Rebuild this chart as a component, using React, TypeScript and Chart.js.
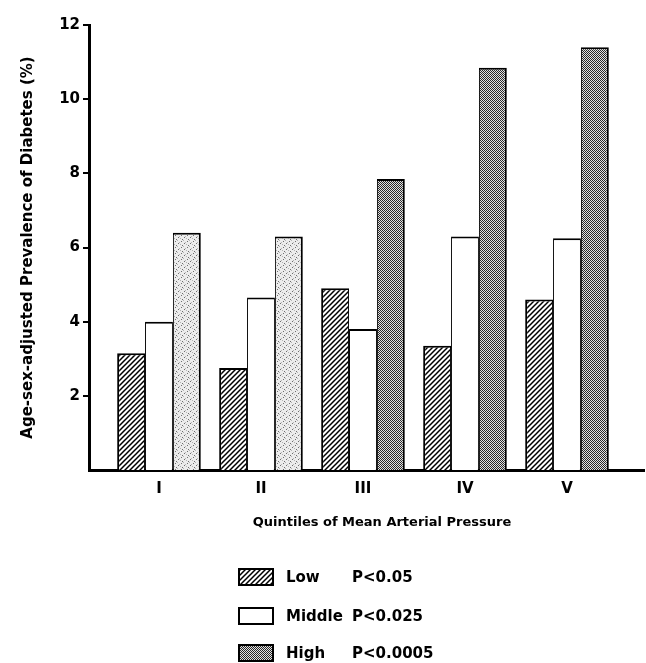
import React, { useEffect, useRef } from 'react';
import { Chart, registerables } from 'chart.js';

Chart.register(...registerables);

const categories = ['I', 'II', 'III', 'IV', 'V'];
const categoryPositions = [1, 2, 3, 4, 5];
const lowValues = [3.15, 2.75, 4.9, 3.35, 4.6];
const middleValues = [4.0, 4.65, 3.8, 6.3, 6.25];
const highValues = [6.4, 6.3, 7.85, 10.85, 11.4];
const highShade = ['light', 'light', 'dark', 'dark', 'dark'];
const seriesNames = ['Low', 'Middle', 'High'];
const pValues = ['P<0.05', 'P<0.025', 'P<0.0005'];
const yTicks = [2, 4, 6, 8, 10, 12];
const xTitle = 'Quintiles of Mean Arterial Pressure';
const yTitle = 'Age-sex-adjusted Prevalence of Diabetes (%)';

const FONT = '"DejaVu Sans", "Liberation Sans", sans-serif';

function makeHatch(ctx: CanvasRenderingContext2D) {
  const c = document.createElement('canvas');
  c.width = 5;
  c.height = 5;
  const g = c.getContext('2d')!;
  g.fillStyle = '#fff';
  g.fillRect(0, 0, 5, 5);
  g.strokeStyle = '#000';
  g.lineWidth = 1.5;
  g.beginPath();
  g.moveTo(-1, 6);
  g.lineTo(6, -1);
  g.moveTo(-1, 1);
  g.lineTo(1, -1);
  g.moveTo(4, 6);
  g.lineTo(6, 4);
  g.stroke();
  return ctx.createPattern(c, 'repeat')!;
}

function makeStipple(ctx: CanvasRenderingContext2D, dark: boolean) {
  const size = 6;
  const c = document.createElement('canvas');
  c.width = size;
  c.height = size;
  const g = c.getContext('2d')!;
  const img = g.createImageData(size, size);
  for (let y = 0; y < size; y++) {
    for (let x = 0; x < size; x++) {
      let v: number;
      if (dark) {
        v = (x + y) % 2 === 0 ? 40 : 225;
        if (x === 2 && y === 3) v = 235;
      } else {
        v = 236;
        if ((x === 1 && y === 1) || (x === 4 && y === 3) || (x === 2 && y === 5)) v = 110;
        if ((x === 3 && y === 0) || (x === 0 && y === 4) || (x === 5 && y === 2)) v = 180;
      }
      const i = (y * size + x) * 4;
      img.data[i] = v;
      img.data[i + 1] = v;
      img.data[i + 2] = v;
      img.data[i + 3] = 255;
    }
  }
  g.putImageData(img, 0, 0);
  return ctx.createPattern(c, 'repeat')!;
}

export default function App() {
  const ref = useRef<HTMLCanvasElement | null>(null);

  useEffect(() => {
    const canvas = ref.current!;
    const ctx = canvas.getContext('2d')!;
    const hatch = makeHatch(ctx);
    const light = makeStipple(ctx, false);
    const dark = makeStipple(ctx, true);
    const legendFills = [hatch, '#ffffff', dark];

    const extras = {
      id: 'extras',
      afterDraw(chart: any) {
        const c = chart.ctx as CanvasRenderingContext2D;
        c.save();
        c.fillStyle = '#000';
        c.textBaseline = 'middle';
        c.textAlign = 'center';
        c.font = `bold 13px ${FONT}`;
        c.fillText(xTitle, 382, 523);
        c.textAlign = 'left';
        c.font = `bold 15px ${FONT}`;
        const rows = [577, 616, 653];
        seriesNames.forEach((name, i) => {
          const y = rows[i];
          c.fillStyle = legendFills[i] as any;
          c.fillRect(239, y - 8, 34, 16);
          c.strokeStyle = '#000';
          c.lineWidth = 2;
          c.strokeRect(239, y - 8, 34, 16);
          c.fillStyle = '#000';
          c.fillText(name, 286, y + 1);
          c.fillText(pValues[i], 352, y + 1);
        });
        c.restore();
      },
    };

    const toPoints = (vals: number[]) => vals.map((v, i) => ({ x: categoryPositions[i], y: v }));

    const chart = new Chart(canvas, {
      type: 'bar',
      data: {
        datasets: [
          {
            label: seriesNames[0],
            data: toPoints(lowValues),
            backgroundColor: hatch as any,
            borderColor: '#000',
            borderWidth: { left: 2, right: 1, top: 2, bottom: 0 } as any,
            categoryPercentage: 0.82,
            barPercentage: 1.0,
          },
          {
            label: seriesNames[1],
            data: toPoints(middleValues),
            backgroundColor: '#ffffff',
            borderColor: '#000',
            borderWidth: { left: 1, right: 1, top: 2, bottom: 0 } as any,
            categoryPercentage: 0.82,
            barPercentage: 1.0,
          },
          {
            label: seriesNames[2],
            data: toPoints(highValues),
            backgroundColor: highShade.map((s) => (s === 'light' ? light : dark)) as any,
            borderColor: '#000',
            borderWidth: { left: 1, right: 2, top: 2, bottom: 0 } as any,
            categoryPercentage: 0.82,
            barPercentage: 1.0,
          },
        ],
      },
      options: {
        animation: false,
        responsive: false,
        devicePixelRatio: 1,
        layout: { padding: { top: 25, right: 2, left: 0, bottom: 0 } },
        plugins: {
          legend: { display: false },
          tooltip: { enabled: false },
        },
        scales: {
          x: {
            type: 'linear',
            offset: false,
            min: 0.314,
            max: 5.755,
            afterBuildTicks: (s: any) => {
              s.ticks = categoryPositions.map((v) => ({ value: v }));
            },
            afterFit: (s: any) => {
              s.height = 193;
            },
            ticks: {
              autoSkip: false,
              maxRotation: 0,
              padding: 10,
              color: '#000',
              font: { family: FONT, size: 15, weight: 'bold' },
              callback: (v: any) => {
                const idx = categoryPositions.indexOf(Number(v));
                return idx >= 0 ? categories[idx] : '';
              },
            },
            grid: { offset: false, drawOnChartArea: false, drawTicks: false },
            border: { display: true, color: '#000', width: 3 },
          },
          y: {
            min: 0,
            max: 12,
            afterBuildTicks: (s: any) => {
              s.ticks = yTicks.map((v) => ({ value: v }));
            },
            afterFit: (s: any) => {
              s.width = 89;
            },
            ticks: {
              padding: 3,
              color: '#000',
              font: { family: FONT, size: 15, weight: 'bold' },
            },
            grid: {
              drawOnChartArea: false,
              drawTicks: true,
              tickLength: 6,
              color: '#000',
              lineWidth: 2,
            },
            border: { display: true, color: '#000', width: 3 },
            title: {
              display: true,
              text: yTitle,
              color: '#000',
              font: { family: FONT, size: 15, weight: 'bold' },
              padding: { top: 19, bottom: 0 },
            },
          },
        },
      },
      plugins: [extras],
    });

    return () => chart.destroy();
  }, []);

  return (
    <div style={{ position: 'absolute', left: 0, top: 0, width: 646, height: 663, background: '#fff' }}>
      <canvas ref={ref} width={646} height={663} style={{ display: 'block' }} />
    </div>
  );
}
